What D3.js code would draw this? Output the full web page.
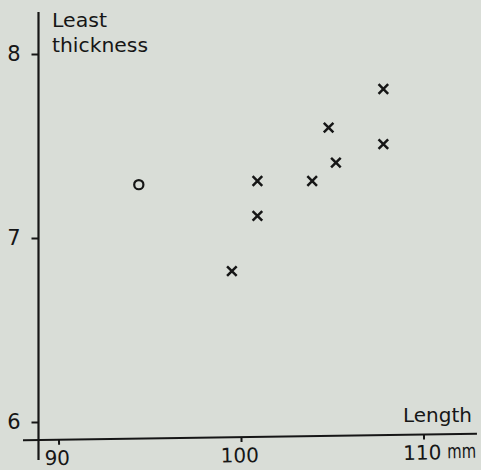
<!DOCTYPE html>
<html>
<head>
<meta charset="utf-8">
<script src="https://cdn.jsdelivr.net/npm/d3@7"></script>
<style>
  html, body { margin: 0; padding: 0; background: #d9ddd7; }
  svg { display: block; }
  text { font-family: "DejaVu Sans", sans-serif; fill: #161616; }
</style>
</head>
<body>
<svg id="chart" width="481" height="470"></svg>
<script>
// Shell length (mm) against least shell thickness
const crossLength    = [100.9, 100.9, 99.5, 103.9, 104.8, 105.2, 107.8, 107.8];
const crossThickness = [7.31, 7.12, 6.82, 7.31, 7.60, 7.41, 7.81, 7.51];
const circleLength    = [94.4];
const circleThickness = [7.29];
const xTicks = [90, 100, 110];
const yTicks = [6, 7, 8];

const ink = "#161616";
const svg = d3.select("#chart");

const x = d3.scaleLinear().domain([90, 110]).range([58.5, 423.5]);
const y = d3.scaleLinear().domain([6, 8]).range([422, 54]);
const axisX = 38.5, axisY = 440;

// vertical axis line
svg.append("line")
  .attr("x1", axisX).attr("x2", axisX)
  .attr("y1", 12).attr("y2", 460)
  .attr("stroke", ink).attr("stroke-width", 2.2);

// y ticks
const gy = svg.append("g")
  .attr("transform", `translate(${axisX},0)`)
  .call(d3.axisLeft(y).tickValues(yTicks).tickSize(7).tickPadding(11).tickFormat(d3.format("d")));
gy.select(".domain").remove();
gy.selectAll(".tick line").attr("stroke", ink).attr("stroke-width", 2);
gy.selectAll(".tick text").attr("font-size", 21).style("font-family", "DejaVu Sans").attr("fill", ink);

// horizontal axis, drawn with a slight tilt
const gxWrap = svg.append("g")
  .attr("transform", `translate(0,${axisY}) rotate(-0.82 ${axisX} 0)`);
gxWrap.append("line")
  .attr("x1", 23).attr("x2", 477).attr("y1", 0).attr("y2", 0)
  .attr("stroke", ink).attr("stroke-width", 2);
const gx = gxWrap.append("g")
  .call(d3.axisBottom(x).tickValues(xTicks).tickSize(5).tickPadding(6).tickFormat(d3.format("d")));
gx.select(".domain").remove();
gx.selectAll(".tick line").attr("stroke", ink).attr("stroke-width", 2);
gx.selectAll(".tick text").attr("font-size", 20).style("font-family", "DejaVu Sans").attr("fill", ink)
  .attr("dx", -2);
gxWrap.append("text")
  .attr("x", 447).attr("y", 24)
  .attr("font-size", 20)
  .attr("textLength", 29).attr("lengthAdjust", "spacingAndGlyphs")
  .text("mm");

// axis titles
function title(txt, tx, ty, len) {
  svg.append("text").attr("x", tx).attr("y", ty).attr("font-size", 20)
    .attr("textLength", len).attr("lengthAdjust", "spacingAndGlyphs")
    .text(txt);
}
title("Least", 52, 27, 55);
title("thickness", 52, 52, 96);
title("Length", 403, 422, 69);

// cross markers
const s = 4.8;
svg.append("g").selectAll("path")
  .data(d3.zip(crossLength, crossThickness))
  .join("path")
  .attr("d", d => {
    const cx = x(d[0]), cy = y(d[1]);
    return `M${cx - s},${cy - s}L${cx + s},${cy + s}M${cx - s},${cy + s}L${cx + s},${cy - s}`;
  })
  .attr("stroke", ink).attr("stroke-width", 2.5).attr("fill", "none");

// circle marker
svg.append("g").selectAll("circle")
  .data(d3.zip(circleLength, circleThickness))
  .join("circle")
  .attr("cx", d => x(d[0])).attr("cy", d => y(d[1]))
  .attr("r", 4.6)
  .attr("fill", "none").attr("stroke", ink).attr("stroke-width", 2.2);
</script>
</body>
</html>
